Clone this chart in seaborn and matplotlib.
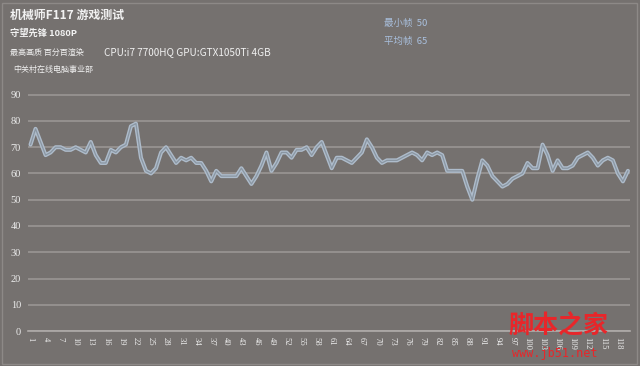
import matplotlib
matplotlib.use("Agg")
import matplotlib.pyplot as plt
import numpy as np
import pandas as pd
import seaborn as sns
from matplotlib.patches import Rectangle

# frame rate per sample (1..120)
fps = [71, 77, 72, 67, 68, 70, 70, 69, 69, 70,
       69, 68, 72, 67, 64, 64, 69, 68, 70, 71,
       78, 79, 66, 61, 60, 62, 68, 70, 67, 64,
       66, 65, 66, 64, 64, 61, 57, 61, 59, 59,
       59, 59, 62, 59, 56, 59, 63, 68, 61, 64,
       68, 68, 66, 69, 69, 70, 67, 70, 72, 67,
       62, 66, 66, 65, 64, 66, 68, 73, 70, 66,
       64, 65, 65, 65, 66, 67, 68, 67, 65, 68,
       67, 68, 67, 61, 61, 61, 61, 55, 50, 58,
       65, 63, 59, 57, 55, 56, 58, 59, 60, 64,
       62, 62, 71, 67, 61, 65, 62, 62, 63, 66,
       67, 68, 66, 63, 65, 66, 65, 60, 57, 61]
samples = list(range(1, len(fps) + 1))
y_ticks = list(range(0, 100, 10))
x_labels = [str(s) for s in samples[::3]]

title = "机械师F117 游戏测试"
game = "守望先锋 1080P"
quality = "最高画质 百分百渲染"
hardware = "CPU:i7 7700HQ GPU:GTX1050Ti 4GB"
studio = "中关村在线电脑事业部"
stats = ["最小帧  50", "平均帧  65"]

bg = "#75716f"
grid_c = "#9a9694"
text_c = "#ececec"

sns.set_style("dark")
plt.rcParams["font.family"] = ["Noto Sans CJK SC", "DejaVu Sans"]

df = pd.DataFrame({"idx": np.arange(len(fps)), "fps": fps})

fig = plt.figure(figsize=(6.4, 3.66), dpi=100, facecolor=bg)
ax = fig.add_axes([0.04375, 0.0956, 0.9413, 0.6492])
ax.set_facecolor(bg)

# glow-style line: wide light stroke with a darker core
sns.lineplot(data=df, x="idx", y="fps", ax=ax, color="#aebccb", linewidth=2.9)
sns.lineplot(data=df, x="idx", y="fps", ax=ax, color="#8a96a2", linewidth=0.9)

ax.set_xlim(-0.5, len(fps) - 0.5)
ax.set_ylim(0, 90.5)
ax.set_yticks(y_ticks)
ax.set_yticklabels([str(v) for v in y_ticks], fontsize=7.5, color=text_c,
                   family=["Liberation Serif", "DejaVu Serif"])
ax.set_xticks(np.arange(0, len(fps), 3))
ax.set_xticklabels(x_labels, rotation=-90, fontsize=6.2, color=text_c,
                   family=["Liberation Serif", "DejaVu Serif"], va="top", ha="center")
ax.tick_params(axis="both", length=0)
ax.tick_params(axis="y", pad=5)
ax.tick_params(axis="x", pad=4)
ax.grid(axis="y", color=grid_c, linewidth=1.2)
ax.grid(axis="x", visible=False)
ax.set_axisbelow(True)
for side in ["top", "right", "left"]:
    ax.spines[side].set_visible(False)
ax.spines["bottom"].set_color("#b0acaa")
ax.spines["bottom"].set_linewidth(1.2)
ax.set_xlabel("")
ax.set_ylabel("")

# header texts
W, H = 640, 366
def put(x, y, s, **kw):
    fig.text(x / W, 1 - y / H, s, va="center", ha="left", **kw)

put(10, 15, title, fontsize=8.6, fontweight="bold", color="#f2f2f2")
put(10, 33, game, fontsize=6.7, fontweight="bold", color="#f2f2f2")
put(10, 52, quality, fontsize=5.8, color="#f0f0f0")
put(104, 52, hardware, fontsize=7.2, color="#f0f0f0")
put(13, 69, studio, fontsize=5.8, color="#f0f0f0")
put(384, 23, stats[0], fontsize=6.8, color="#a9c0de")
put(384, 41, stats[1], fontsize=6.8, color="#a9c0de")

# site watermark (sits over the last tick labels, as in the source image)
put(508, 326, "脚本之家", fontsize=18, color="#e8262a", fontweight="bold")
put(512, 354, "www.jb51.net", fontsize=8.5, color="#e8262a",
    family=["DejaVu Sans Mono"])

# light frame around the picture
fig.patches.append(Rectangle((2 / W, 2 / H), 1 - 5 / W, 1 - 5 / H,
                             transform=fig.transFigure, fill=False,
                             edgecolor="#8d8987", linewidth=1.0))

fig.savefig("out.png", dpi=100, facecolor=bg)
plt.close(fig)
